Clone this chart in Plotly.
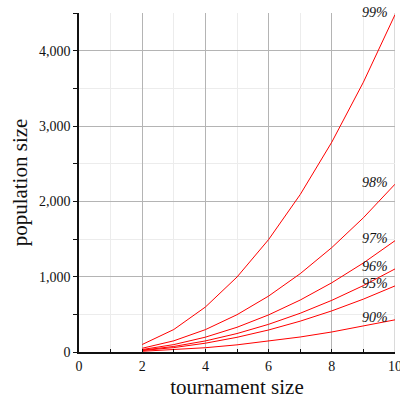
import plotly.graph_objects as go

# tournament sizes
tournament = [2, 3, 4, 5, 6, 7, 8, 9, 10]

# population size needed for each confidence level
levels = ["90%", "95%", "96%", "97%", "98%", "99%"]
pop_90 = [9.5, 28.5, 56.9, 94.9, 142.4, 199.3, 265.8, 341.7, 427.1]
pop_95 = [19.5, 58.5, 117.0, 195.0, 292.4, 409.4, 545.9, 701.9, 877.3]
pop_96 = [24.5, 73.5, 147.0, 245.0, 367.5, 514.4, 685.9, 881.9, 1102.4]
pop_97 = [32.8, 98.5, 197.0, 328.3, 492.5, 689.5, 919.3, 1181.9, 1477.4]
pop_98 = [49.5, 148.5, 297.0, 495.0, 742.5, 1039.5, 1386.0, 1782.0, 2227.4]
pop_99 = [99.5, 298.5, 597.0, 995.0, 1492.5, 2089.5, 2786.0, 3582.0, 4477.5]
series = [pop_90, pop_95, pop_96, pop_97, pop_98, pop_99]

x_range = [0, 10]
y_range = [0, 4500]

serif = "Times New Roman, Liberation Serif, serif"
ink = "#111111"
major_grid = "#b4b4b4"
minor_grid = "#ececec"

fig = go.Figure()
for name, ys in zip(levels, series):
    fig.add_trace(go.Scatter(
        x=tournament, y=ys, mode="lines", name=name,
        line=dict(color="#ff0000", width=1), showlegend=False,
        hoverinfo="skip", cliponaxis=False))
    fig.add_annotation(
        x=tournament[-1], y=ys[-1], text=f"<i>{name}</i>", showarrow=False,
        xanchor="right", yanchor="middle", xshift=-5, yshift=2,
        font=dict(family=serif, size=14, color=ink))

# gridline on the right edge of the plot area
fig.add_shape(type="line", xref="x", yref="paper",
              x0=x_range[1], x1=x_range[1], y0=0, y1=1,
              line=dict(color=major_grid, width=1), layer="below")

fig.update_layout(
    width=400, height=399,
    margin=dict(l=79, r=5, t=13, b=47),
    paper_bgcolor="white", plot_bgcolor="white",
    font=dict(family=serif, size=14, color=ink),
    xaxis=dict(
        range=x_range, tick0=0, dtick=2, showgrid=True,
        gridcolor=major_grid, gridwidth=1,
        minor=dict(dtick=1, showgrid=True, gridcolor=minor_grid,
                   ticks="inside", ticklen=3, tickcolor=ink),
        ticks="inside", ticklen=3, tickcolor=ink,
        ticklabeloverflow="allow", automargin=False,
        showline=True, linecolor=ink, linewidth=1.5,
        zeroline=False,
        title=dict(text="tournament size", font=dict(family=serif, size=21, color=ink),
                   standoff=8),
        tickfont=dict(family=serif, size=14, color=ink),
    ),
    yaxis=dict(
        range=y_range, tick0=0, dtick=1000, tickformat=",d",
        showgrid=True, gridcolor=major_grid, gridwidth=1,
        minor=dict(dtick=500, showgrid=True, gridcolor=minor_grid,
                   ticks="outside", ticklen=4, tickcolor=ink),
        ticks="outside", ticklen=4, tickcolor=ink,
        ticklabeloverflow="allow", automargin=False,
        showline=True, linecolor=ink, linewidth=1.5,
        zeroline=False,
        title=dict(text="population size", font=dict(family=serif, size=21, color=ink),
                   standoff=6),
        tickfont=dict(family=serif, size=14, color=ink),
    ),
)

fig.write_html("out.html")
